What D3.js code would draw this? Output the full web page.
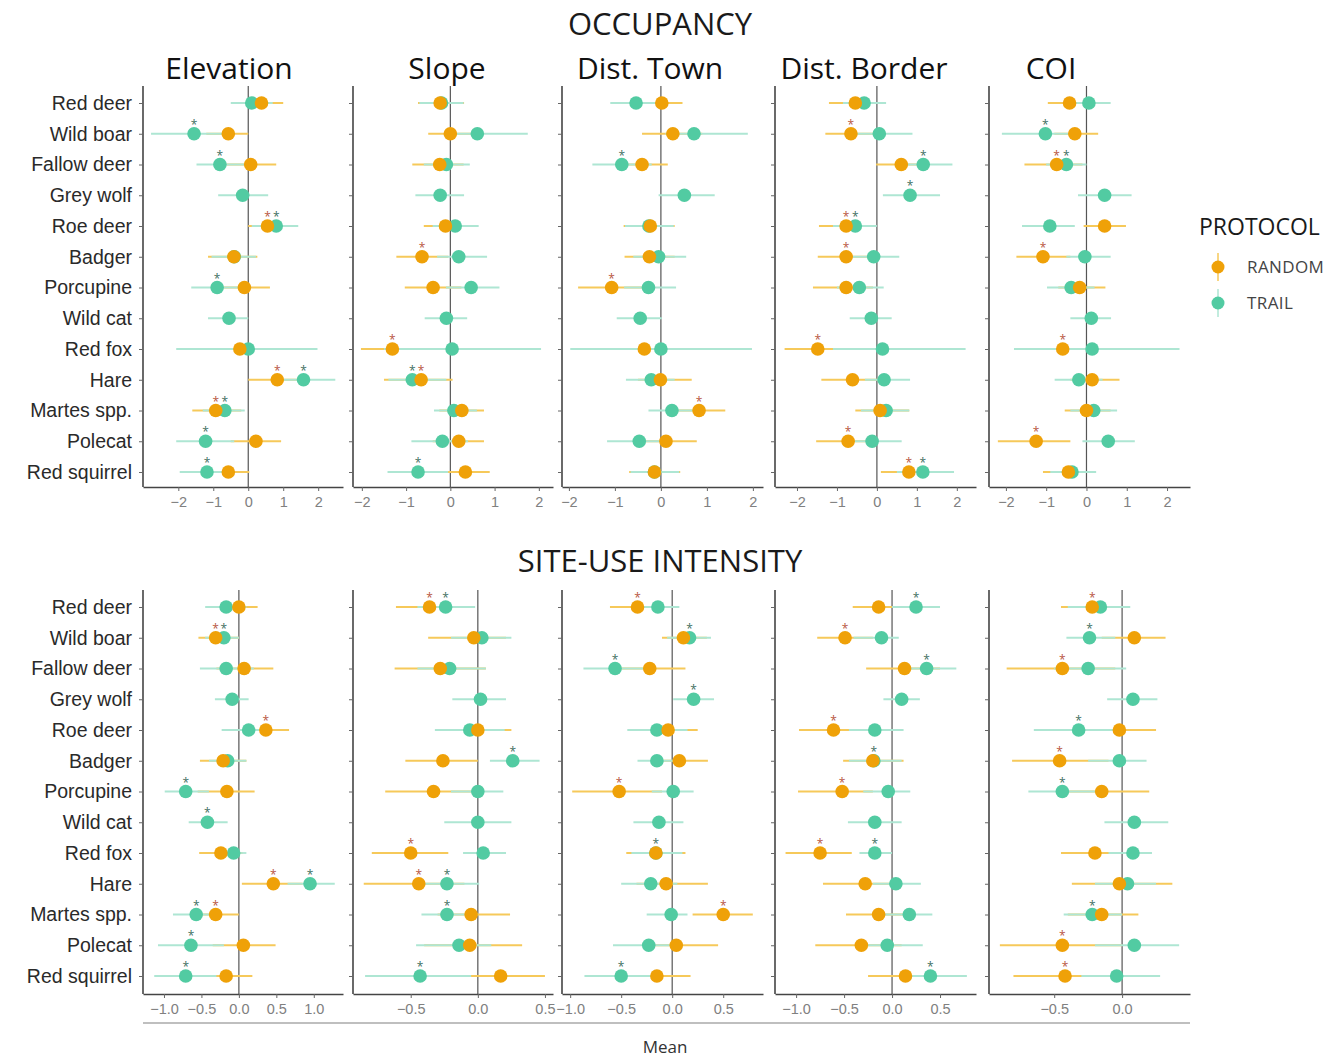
<!DOCTYPE html>
<html>
<head>
<meta charset="utf-8">
<script src="https://cdn.jsdelivr.net/npm/d3@7"></script>
<style>
  body { margin: 0; background: #fff; }
  text { font-family: "Open Sans", "Noto Sans", sans-serif; }
  .tick text { font-family: "Liberation Sans", Arial, sans-serif; }
</style>
</head>
<body>
<svg id="chart" width="1341" height="1057"></svg>
<script>
const species = ["Red deer", "Wild boar", "Fallow deer", "Grey wolf", "Roe deer", "Badger", "Porcupine",
  "Wild cat", "Red fox", "Hare", "Martes spp.", "Polecat", "Red squirrel"];
const covariates = ["Elevation", "Slope", "Dist. Town", "Dist. Border", "COI"];
const protocols = ["RANDOM", "TRAIL"];

const occTicks = [[-2, -1, 0, 1, 2], [-2, -1, 0, 1, 2], [-2, -1, 0, 1, 2], [-2, -1, 0, 1, 2], [-2, -1, 0, 1, 2]];
const suiTicks = [[-1, -0.5, 0, 0.5, 1], [-0.5, 0, 0.5], [-1, -0.5, 0, 0.5], [-1, -0.5, 0, 0.5], [-0.5, 0]];
const occDomains = [[-3.01, 2.71], [-2.2, 2.32], [-2.15, 2.22], [-2.55, 2.48], [-2.42, 2.57]];
const suiDomains = [[-1.28, 1.39], [-0.93, 0.56], [-1.08, 0.89], [-1.22, 0.875], [-0.98, 0.5]];

// rows follow species order: [mean, lower, upper, significant]
// ---------- OCCUPANCY ----------
const occElevTrail = [[0.1,-0.5,0.7,0],[-1.55,-2.78,-0.4,1],[-0.81,-1.48,-0.12,1],[-0.16,-0.86,0.57,0],[0.8,0.1,1.43,1],
  [-0.4,-1.05,0.22,0],[-0.89,-1.63,-0.18,1],[-0.55,-1.15,0.0,0],[0.0,-2.06,1.98,0],[1.58,0.85,2.49,1],
  [-0.67,-1.3,-0.1,1],[-1.22,-2.06,-0.4,1],[-1.18,-1.96,-0.4,1]];
const occElevRandom = [[0.38,-0.25,1.0,0],[-0.57,-1.2,0.0,0],[0.07,-0.62,0.8,0],null,[0.55,0.0,1.2,1],
  [-0.41,-1.15,0.26,0],[-0.11,-0.75,0.62,0],null,[-0.24,-0.8,0.3,0],[0.83,0.0,1.6,1],
  [-0.93,-1.6,-0.2,1],[0.22,-0.5,0.94,0],[-0.57,-1.2,0.03,0]];

const occSlopeTrail = [[-0.2,-0.7,0.3,0],[0.61,-0.05,1.75,0],[-0.09,-0.6,0.44,0],[-0.23,-0.79,0.31,0],[0.11,-0.4,0.64,0],
  [0.19,-0.3,0.83,0],[0.47,-0.1,1.11,0],[-0.09,-0.58,0.38,0],[0.04,-1.5,2.05,0],[-0.86,-1.4,-0.09,1],
  [0.08,-0.37,0.6,0],[-0.18,-0.88,0.4,0],[-0.73,-1.42,-0.05,1]];
const occSlopeRandom = [[-0.23,-0.73,0.31,0],[0.0,-0.5,0.5,0],[-0.24,-0.86,0.3,0],null,[-0.11,-0.6,0.4,0],
  [-0.64,-1.22,-0.05,1],[-0.39,-1.03,0.25,0],null,[-1.31,-2.02,-0.6,1],[-0.66,-1.5,0.05,1],
  [0.26,-0.25,0.76,0],[0.19,-0.4,0.76,0],[0.34,-0.2,0.89,0]];

const occTownTrail = [[-0.54,-1.1,0.0,0],[0.72,0.1,1.89,0],[-0.85,-1.49,-0.2,1],[0.51,-0.05,1.17,0],[-0.26,-0.78,0.28,0],
  [-0.05,-0.6,0.55,0],[-0.27,-0.8,0.33,0],[-0.45,-0.96,0.02,0],[0.0,-1.97,1.98,0],[-0.21,-0.76,0.3,0],
  [0.24,-0.27,0.75,0],[-0.47,-1.17,0.1,0],[-0.14,-0.66,0.4,0]];
const occTownRandom = [[0.02,-0.4,0.47,0],[0.26,-0.41,0.9,0],[-0.41,-0.9,0.15,0],null,[-0.23,-0.81,0.3,0],
  [-0.25,-0.79,0.3,0],[-1.07,-1.8,-0.35,1],null,[-0.36,-0.9,0.2,0],[-0.01,-0.5,0.67,0],
  [0.83,0.3,1.4,1],[0.11,-0.4,0.78,0],[-0.14,-0.69,0.42,0]];

const occBorderTrail = [[-0.32,-0.85,0.23,0],[0.06,-0.5,0.89,0],[1.16,0.6,1.89,1],[0.83,0.15,1.58,1],[-0.54,-1.1,0.0,1],
  [-0.08,-0.6,0.56,0],[-0.44,-1.0,0.17,0],[-0.14,-0.68,0.37,0],[0.14,-1.1,2.22,0],[0.18,-0.3,0.83,0],
  [0.23,-0.4,0.81,0],[-0.12,-0.6,0.62,0],[1.15,0.5,1.93,1]];
const occBorderRandom = [[-0.54,-1.2,0.1,0],[-0.65,-1.29,-0.05,1],[0.61,-0.02,1.2,0],null,[-0.77,-1.45,-0.1,1],
  [-0.77,-1.48,-0.1,1],[-0.77,-1.6,-0.1,0],null,[-1.48,-2.31,-0.7,1],[-0.61,-1.39,0.1,0],
  [0.08,-0.54,0.81,0],[-0.72,-1.52,-0.1,1],[0.8,0.1,1.5,1]];

const occCoiTrail = [[0.06,-0.3,0.6,0],[-1.02,-2.1,-0.4,1],[-0.5,-1.0,0.0,1],[0.45,-0.21,1.12,0],[-0.91,-1.6,-0.29,0],
  [-0.04,-0.5,0.6,0],[-0.38,-0.98,0.2,0],[0.12,-0.4,0.61,0],[0.14,-1.8,2.31,0],[-0.19,-0.79,0.4,0],
  [0.18,-0.4,0.76,0],[0.54,-0.1,1.2,0],[-0.36,-0.9,0.24,0]];
const occCoiRandom = [[-0.42,-0.96,0.1,0],[-0.29,-0.8,0.29,0],[-0.74,-1.54,-0.1,1],null,[0.45,-0.07,0.98,0],
  [-1.08,-1.74,-0.4,1],[-0.17,-0.7,0.47,0],null,[-0.59,-1.1,-0.05,1],[0.14,-0.4,0.82,0],
  [0.0,-0.54,0.6,0],[-1.25,-2.2,-0.4,1],[-0.45,-1.08,0.1,0]];

// ---------- SITE-USE INTENSITY ----------
const suiElevTrail = [[-0.17,-0.45,0.1,0],[-0.2,-0.45,0.0,1],[-0.17,-0.52,0.2,0],[-0.09,-0.32,0.13,0],[0.13,-0.23,0.4,0],
  [-0.15,-0.4,0.1,0],[-0.71,-0.99,-0.4,1],[-0.42,-0.67,-0.15,1],[-0.07,-0.3,0.1,0],[0.95,0.65,1.28,1],
  [-0.57,-0.88,-0.25,1],[-0.64,-1.08,-0.2,1],[-0.71,-1.13,-0.3,1]];
const suiElevRandom = [[0.0,-0.25,0.25,0],[-0.31,-0.54,0.0,1],[0.07,-0.3,0.46,0],null,[0.36,0.05,0.67,1],
  [-0.21,-0.52,0.1,0],[-0.16,-0.55,0.21,0],null,[-0.24,-0.53,0.05,0],[0.46,0.04,0.85,1],
  [-0.31,-0.6,0.0,1],[0.06,-0.35,0.49,0],[-0.17,-0.55,0.18,0]];

const suiSlopeTrail = [[-0.24,-0.45,-0.02,1],[0.03,-0.2,0.25,0],[-0.21,-0.45,0.06,0],[0.02,-0.19,0.21,0],[-0.06,-0.32,0.2,0],
  [0.26,0.09,0.46,1],[0.0,-0.2,0.19,0],[0.0,-0.25,0.25,0],[0.04,-0.11,0.21,0],[-0.23,-0.45,0.01,1],
  [-0.23,-0.42,0.0,1],[-0.14,-0.46,0.1,0],[-0.43,-0.84,-0.05,1]];
const suiSlopeRandom = [[-0.36,-0.61,-0.1,1],[-0.03,-0.37,0.21,0],[-0.28,-0.62,0.06,0],null,[0.0,-0.3,0.25,0],
  [-0.26,-0.54,0.0,0],[-0.33,-0.69,0.0,0],null,[-0.5,-0.79,-0.22,1],[-0.44,-0.85,-0.1,1],
  [-0.05,-0.3,0.24,0],[-0.06,-0.4,0.33,0],[0.17,-0.2,0.5,0]];

const suiTownTrail = [[-0.14,-0.4,0.07,0],[0.17,-0.05,0.38,1],[-0.56,-0.87,-0.25,1],[0.21,0.01,0.41,1],[-0.15,-0.44,0.15,0],
  [-0.15,-0.34,0.05,0],[0.01,-0.2,0.21,0],[-0.13,-0.38,0.11,0],[-0.16,-0.4,0.1,1],[-0.21,-0.5,0.05,0],
  [-0.01,-0.25,0.15,0],[-0.23,-0.58,0.05,0],[-0.5,-0.86,-0.15,1]];
const suiTownRandom = [[-0.34,-0.61,-0.05,1],[0.11,-0.1,0.34,0],[-0.22,-0.5,0.13,0],null,[-0.04,-0.3,0.25,0],
  [0.07,-0.2,0.35,0],[-0.52,-0.98,-0.1,1],null,[-0.16,-0.45,0.13,0],[-0.06,-0.35,0.35,0],
  [0.5,0.2,0.79,1],[0.04,-0.25,0.45,0],[-0.15,-0.45,0.18,0]];

const suiBorderTrail = [[0.25,0.0,0.5,1],[-0.11,-0.4,0.07,0],[0.36,0.1,0.67,1],[0.1,-0.09,0.29,0],[-0.18,-0.45,0.12,0],
  [-0.19,-0.45,0.1,1],[-0.04,-0.3,0.19,0],[-0.18,-0.46,0.1,0],[-0.18,-0.34,0.0,1],[0.04,-0.2,0.3,0],
  [0.18,-0.1,0.42,0],[-0.05,-0.3,0.32,0],[0.4,0.1,0.78,1]];
const suiBorderRandom = [[-0.14,-0.41,0.1,0],[-0.49,-0.78,-0.2,1],[0.13,-0.27,0.5,0],null,[-0.61,-0.97,-0.3,1],
  [-0.2,-0.51,0.12,0],[-0.52,-0.98,-0.2,1],null,[-0.75,-1.11,-0.42,1],[-0.28,-0.72,0.1,0],
  [-0.14,-0.48,0.15,0],[-0.32,-0.8,0.1,0],[0.14,-0.25,0.5,0]];

const suiCoiTrail = [[-0.16,-0.4,0.06,0],[-0.24,-0.41,-0.05,1],[-0.25,-0.5,0.03,0],[0.08,-0.11,0.26,0],[-0.32,-0.65,-0.05,1],
  [-0.02,-0.25,0.18,0],[-0.44,-0.69,-0.2,1],[0.09,-0.13,0.34,0],[0.08,-0.1,0.22,0],[0.04,-0.2,0.25,0],
  [-0.22,-0.43,0.0,1],[0.09,-0.2,0.42,0],[-0.04,-0.3,0.28,0]];
const suiCoiRandom = [[-0.22,-0.45,0.0,1],[0.09,-0.15,0.32,0],[-0.44,-0.85,-0.05,1],null,[-0.02,-0.3,0.25,0],
  [-0.46,-0.81,-0.1,1],[-0.15,-0.45,0.2,0],null,[-0.2,-0.45,0.05,0],[-0.02,-0.37,0.37,0],
  [-0.15,-0.4,0.12,0],[-0.44,-0.9,0.0,1],[-0.42,-0.8,-0.05,1]];

const occTrail = [occElevTrail, occSlopeTrail, occTownTrail, occBorderTrail, occCoiTrail];
const occRandom = [occElevRandom, occSlopeRandom, occTownRandom, occBorderRandom, occCoiRandom];
const suiTrail = [suiElevTrail, suiSlopeTrail, suiTownTrail, suiBorderTrail, suiCoiTrail];
const suiRandom = [suiElevRandom, suiSlopeRandom, suiTownRandom, suiBorderRandom, suiCoiRandom];

const colors = { RANDOM: "#efa108", TRAIL: "#52cba2" };
const barColors = { RANDOM: "#f6c95a", TRAIL: "#aee6d3" };
const starColors = { RANDOM: "#b8563f", TRAIL: "#3f6f62" };

const svg = d3.select("#chart");

const panelLeft = [143, 353, 562, 775, 989];
const panelRight = [343, 553, 763, 976, 1190];
const dotR = 6.8;

const blocks = [
  { title: "OCCUPANCY", titleY: 35, yRange: [103, 472], top: 86, bottom: 487,
    domains: occDomains, ticks: occTicks, trail: occTrail, random: occRandom, fmt: d3.format("d"), heads: true },
  { title: "SITE-USE INTENSITY", titleY: 572, yRange: [607, 976], top: 590, bottom: 994,
    domains: suiDomains, ticks: suiTicks, trail: suiTrail, random: suiRandom, fmt: d3.format(".1f"), heads: false }
];

const headX = [229, 447, 650, 864, 1051];

blocks.forEach(b => {
  svg.append("text")
    .attr("x", 660).attr("y", b.titleY)
    .attr("text-anchor", "middle")
    .attr("font-size", 31).attr("fill", "#1a1a1a")
    .text(b.title);

  let y = d3.scalePoint().domain(species).range(b.yRange);

  covariates.forEach((cov, i) => {
    let x = d3.scaleLinear().domain(b.domains[i]).range([panelLeft[i], panelRight[i]]);
    let g = svg.append("g");

    if (b.heads) {
      g.append("text")
        .attr("x", headX[i]).attr("y", 79)
        .attr("text-anchor", "middle")
        .attr("font-size", 30).attr("fill", "#111")
        .text(cov);
    }

    // zero line
    g.append("line")
      .attr("x1", x(0)).attr("x2", x(0))
      .attr("y1", b.top).attr("y2", b.bottom)
      .attr("stroke", "#555").attr("stroke-width", 1.2);

    // y axis
    let ya = g.append("g")
      .attr("transform", `translate(${panelLeft[i]},0)`)
      .call(d3.axisLeft(y).tickSize(4).tickPadding(7).tickSizeOuter(0));
    ya.select(".domain").attr("d", `M0,${b.top}V${b.bottom}`).attr("stroke", "#444").attr("stroke-width", 1.6);
    ya.selectAll(".tick line").attr("stroke", "#666");
    ya.selectAll(".tick text")
      .attr("font-family", "'Open Sans', 'Noto Sans', sans-serif")
      .attr("font-size", 19.5).attr("font-weight", 500).attr("fill", "#2a2a2a")
      .style("display", i == 0 ? null : "none");

    // x axis
    let xa = g.append("g")
      .attr("transform", `translate(0,${b.bottom})`)
      .call(d3.axisBottom(x).tickValues(b.ticks[i]).tickSize(4).tickPadding(6).tickSizeOuter(0)
        .tickFormat(d => b.fmt(d).replace("-", "\u2212")));
    xa.select(".domain").attr("stroke", "#444").attr("stroke-width", 1.6);
    xa.selectAll(".tick line").attr("stroke", "#666");
    xa.selectAll(".tick text").attr("font-size", 14.5).attr("fill", "#808080");

    let rows = [];
    species.forEach((s, k) => {
      protocols.forEach(p => {
        let v = (p == "TRAIL" ? b.trail[i] : b.random[i])[k];
        if (v) rows.push({ species: s, protocol: p, mean: v[0], lo: v[1], hi: v[2], sig: v[3] });
      });
    });

    g.selectAll(".bar").data(rows).enter()
      .append("line")
      .attr("class", "bar")
      .attr("x1", d => x(d.lo)).attr("x2", d => x(d.hi))
      .attr("y1", d => y(d.species)).attr("y2", d => y(d.species))
      .attr("stroke", d => barColors[d.protocol])
      .attr("stroke-width", 1.8);

    let order = rows.filter(d => d.protocol == "TRAIL").concat(rows.filter(d => d.protocol == "RANDOM"));
    g.selectAll(".dot").data(order).enter()
      .append("circle")
      .attr("class", "dot")
      .attr("cx", d => x(d.mean)).attr("cy", d => y(d.species))
      .attr("r", dotR)
      .attr("fill", d => colors[d.protocol]);

    g.selectAll(".star").data(rows.filter(d => d.sig)).enter()
      .append("text")
      .attr("class", "star")
      .attr("x", d => x(d.mean)).attr("y", d => y(d.species) - 5)
      .attr("text-anchor", "middle")
      .attr("font-size", 12)
      .attr("fill", d => starColors[d.protocol])
      .text("*");
  });
});

// bottom rule and axis title
svg.append("line")
  .attr("x1", 143).attr("x2", 1190).attr("y1", 1023).attr("y2", 1023)
  .attr("stroke", "#aaa").attr("stroke-width", 1.5);
svg.append("text")
  .attr("x", 665).attr("y", 1053)
  .attr("text-anchor", "middle")
  .attr("font-size", 17).attr("fill", "#333")
  .text("Mean");

// legend
let legend = svg.append("g").attr("transform", "translate(1199,0)");
legend.append("text")
  .attr("x", 0).attr("y", 235)
  .attr("font-family", "'Liberation Sans', Arial, sans-serif")
  .attr("font-size", 23).attr("fill", "#1a1a1a")
  .text("PROTOCOL");
protocols.forEach((p, k) => {
  let cy = 267 + k * 36;
  legend.append("line")
    .attr("x1", 19).attr("x2", 19).attr("y1", cy - 14).attr("y2", cy + 14)
    .attr("stroke", barColors[p]).attr("stroke-width", 1.5);
  legend.append("circle")
    .attr("cx", 19).attr("cy", cy).attr("r", 6.5)
    .attr("fill", colors[p]);
  legend.append("text")
    .attr("x", 48).attr("y", cy + 6)
    .attr("font-family", "'Liberation Sans', Arial, sans-serif")
    .attr("font-size", 17).attr("letter-spacing", 0.4).attr("fill", "#444")
    .text(p);
});
</script>
</body>
</html>
